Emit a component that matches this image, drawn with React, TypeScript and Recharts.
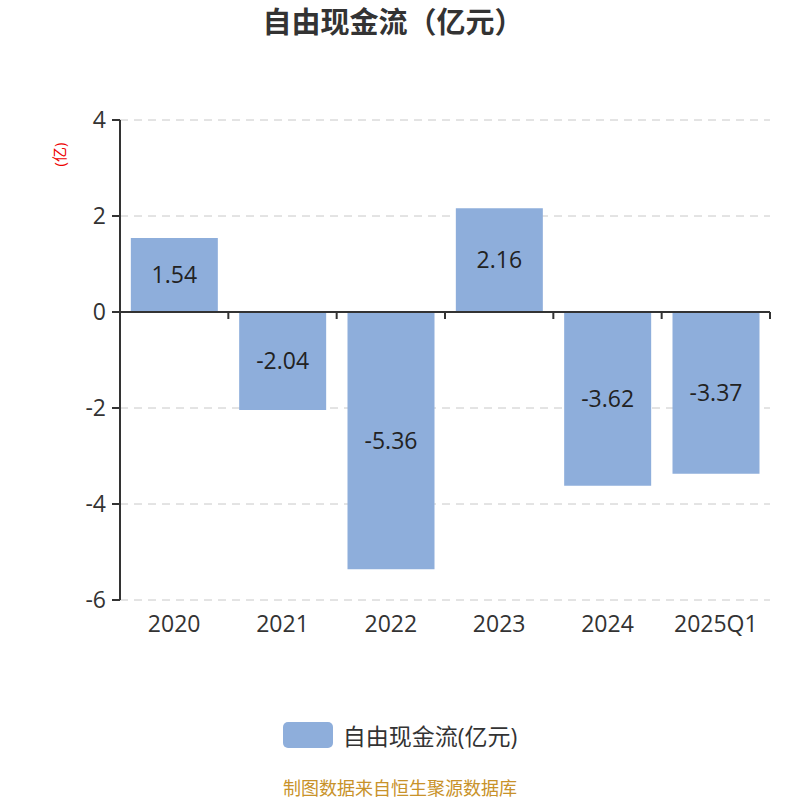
import { BarChart, Bar, XAxis, YAxis, CartesianGrid, ReferenceLine, LabelList } from "recharts";

const categories = ["2020", "2021", "2022", "2023", "2024", "2025Q1"];
const freeCashFlow = [1.54, -2.04, -5.36, 2.16, -3.62, -3.37];
const yTicks = [-6, -4, -2, 0, 2, 4];

const data = categories.map((c, i) => ({ year: c, value: freeCashFlow[i] }));

const FONT = "'Open Sans', 'Noto Sans CJK SC', sans-serif";
const BAR_COLOR = "#8eaedb";

// tick marks hanging under the zero line, one per category boundary
const ZeroTicks = (props: { viewBox?: { x: number; y: number; width: number } }) => {
  const vb = props.viewBox;
  if (!vb) return null;
  const step = vb.width / categories.length;
  return (
    <g>
      {categories.map((_, i) => {
        const x = vb.x + step * (i + 1);
        return <line key={i} x1={x} x2={x} y1={vb.y} y2={vb.y + 7} stroke="#333" strokeWidth={2} />;
      })}
    </g>
  );
};

export default function App() {
  return (
    <div style={{ position: "absolute", left: 0, top: 0, width: 800, height: 800, background: "#fff", fontFamily: FONT, overflow: "hidden" }}>
      <div style={{ position: "absolute", top: 2, left: 0, width: 786, textAlign: "center", fontSize: 29, lineHeight: "40px", fontWeight: 700, color: "#333" }}>
        自由现金流（亿元）
      </div>
      <div
        style={{
          position: "absolute",
          left: 42,
          top: 144,
          width: 32,
          textAlign: "center",
          fontSize: 15,
          color: "#e00",
          transform: "rotate(-90deg)",
        }}
      >
        (亿)
      </div>
      <BarChart
        width={800}
        height={800}
        data={data}
        margin={{ top: 120, right: 30, bottom: 170, left: 60 }}
        barCategoryGap="10%"
      >
        <CartesianGrid horizontal vertical={false} stroke="#c8c8c8" strokeDasharray="8 6" />
        <XAxis
          dataKey="year"
          height={30}
          axisLine={false}
          tickLine={false}
          tickSize={0}
          tickMargin={16}
          tick={{ fontSize: 23, fill: "#333", fontFamily: FONT }}
        />
        <YAxis
          domain={[-6, 4]}
          ticks={yTicks}
          width={60}
          axisLine={{ stroke: "#333", strokeWidth: 2 }}
          tickLine={{ stroke: "#333", strokeWidth: 2 }}
          tickSize={8}
          tickMargin={6}
          tick={{ fontSize: 23, fill: "#333", fontFamily: FONT }}
        />
        <Bar dataKey="value" fill={BAR_COLOR} isAnimationActive={false}>
          <LabelList dataKey="value" position="center" style={{ fontSize: 23, fill: "#222", fontFamily: FONT }} />
        </Bar>
        <ReferenceLine y={0} stroke="#333" strokeWidth={2} label={<ZeroTicks />} />
      </BarChart>
      <div style={{ position: "absolute", top: 718, left: 0, width: 800, display: "flex", alignItems: "center", justifyContent: "center", height: 34 }}>
        <span style={{ width: 50, height: 26, borderRadius: 5, background: BAR_COLOR, display: "inline-block", marginRight: 10 }} />
        <span style={{ fontSize: 23, color: "#333" }}>自由现金流(亿元)</span>
      </div>
      <div style={{ position: "absolute", top: 776, left: 0, width: 800, textAlign: "center", fontSize: 18, lineHeight: "24px", color: "#c8922a" }}>
        制图数据来自恒生聚源数据库
      </div>
    </div>
  );
}
